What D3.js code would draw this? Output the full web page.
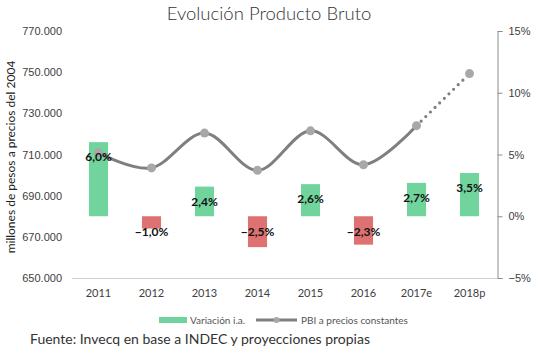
<!DOCTYPE html>
<html>
<head>
  <meta charset="utf-8">
  <script src="https://cdn.jsdelivr.net/npm/d3@7"></script>
  <style>
    body { margin: 0; background: white; }
    svg { display: block; font-family: Lato, "Open Sans", sans-serif; }
  </style>
</head>
<body>
  <script>
    // data
    const years = ['2011', '2012', '2013', '2014', '2015', '2016', '2017e', '2018p']
    const variacion = [0.060, -0.010, 0.024, -0.025, 0.026, -0.023, 0.027, 0.035]
    const pbi = [710800, 703500, 720400, 702300, 721500, 705000, 724000, 749300]
    const leftTicks = [650000, 670000, 690000, 710000, 730000, 750000, 770000]
    const rightTicks = [-0.05, 0, 0.05, 0.10, 0.15]

    const W = 538, H = 354
    const green = '#71d49d', red = '#de7171', lineGrey = '#7f7f7f', dotGrey = '#a8a8a8'

    const svg = d3.select('body').append('svg').attr('width', W).attr('height', H)

    const loc = d3.formatLocale({ decimal: ',', thousands: '.', grouping: [3], currency: ['$', ''] })
    const fmtThousands = loc.format(',')
    const fmtPct = loc.format('.1%')
    const fmtPct0 = loc.format('.0%')

    const x = d3.scaleBand().domain(years).range([72, 496]).paddingInner(0.64).paddingOuter(0.32)
    const yL = d3.scaleLinear().domain([650000, 770000]).range([278, 31])
    const yR = d3.scaleLinear().domain([-0.05, 0.15]).range([278, 31])
    const cx = d => x(d) + x.bandwidth() / 2

    // title
    svg.append('text').attr('x', 269).attr('y', 20).attr('text-anchor', 'middle')
      .attr('font-size', 18.5).attr('font-weight', 300).attr('fill', '#333').text('Evolución Producto Bruto')

    // bottom axis line
    svg.append('line').attr('x1', 72).attr('x2', 497).attr('y1', 278.5).attr('y2', 278.5)
      .attr('stroke', '#d0d0d0')

    // left axis (labels only)
    const gl = svg.append('g').attr('transform', 'translate(62,0)')
      .call(d3.axisLeft(yL).tickValues(leftTicks).tickFormat(fmtThousands).tickSize(0).tickPadding(0))
    gl.select('.domain').remove()
    gl.selectAll('text').attr('font-size', 11).attr('fill', '#404040')

    svg.append('text').attr('transform', 'translate(15,157) rotate(-90)').attr('text-anchor', 'middle')
      .attr('font-size', 12).attr('fill', '#222').text('millones de pesos a precios del 2004')

    // right axis
    const gr = svg.append('g').attr('transform', 'translate(497.5,0)')
      .call(d3.axisRight(yR).tickValues(rightTicks).tickFormat(fmtPct0).tickSize(5).tickPadding(6))
    gr.select('.domain').attr('stroke', '#8c8c8c')
    gr.selectAll('.tick line').attr('stroke', '#8c8c8c')
    gr.selectAll('text').attr('font-size', 11).attr('fill', '#404040')

    // x labels
    svg.append('g').selectAll('text').data(years).join('text')
      .attr('x', d => cx(d)).attr('y', 297).attr('text-anchor', 'middle')
      .attr('font-size', 11).attr('fill', '#404040').text(d => d)

    // bars
    svg.append('g').selectAll('rect').data(years).join('rect')
      .attr('x', d => x(d)).attr('width', x.bandwidth())
      .attr('y', (d, i) => yR(Math.max(0, variacion[i])))
      .attr('height', (d, i) => Math.abs(yR(variacion[i]) - yR(0)))
      .attr('fill', (d, i) => variacion[i] >= 0 ? green : red)

    // line
    const pts = years.map((d, i) => [cx(d), yL(pbi[i])])
    const smooth = d3.line().curve(d3.curveCatmullRom.alpha(0))
    svg.append('path').attr('d', smooth(pts.slice(0, 7))).attr('fill', 'none')
      .attr('stroke', lineGrey).attr('stroke-width', 3).attr('stroke-linecap', 'round')
    svg.append('path').attr('d', d3.line()(pts.slice(6))).attr('fill', 'none')
      .attr('stroke', lineGrey).attr('stroke-width', 3.2).attr('stroke-linecap', 'round')
      .attr('stroke-dasharray', '0 6.5')
    svg.append('g').selectAll('circle').data(pts).join('circle')
      .attr('cx', d => d[0]).attr('cy', d => d[1]).attr('r', 4.5).attr('fill', dotGrey)

    // bar labels
    svg.append('g').selectAll('text').data(years).join('text')
      .attr('x', d => cx(d)).attr('text-anchor', 'middle')
      .attr('y', (d, i) => variacion[i] >= 0 ? yR(variacion[i]) + 19 : yR(0) + 20)
      .attr('font-size', 12).attr('font-weight', 'bold').attr('fill', '#111')
      .text((d, i) => fmtPct(variacion[i]))

    // legend
    svg.append('rect').attr('x', 159).attr('y', 317).attr('width', 28).attr('height', 6).attr('fill', green)
    svg.append('text').attr('x', 190).attr('y', 323.5).attr('font-size', 10).attr('fill', '#555').text('Variación i.a.')
    svg.append('line').attr('x1', 256).attr('x2', 297).attr('y1', 320).attr('y2', 320)
      .attr('stroke', lineGrey).attr('stroke-width', 3)
    svg.append('circle').attr('cx', 276.5).attr('cy', 320).attr('r', 3).attr('fill', dotGrey)
    svg.append('text').attr('x', 301).attr('y', 323.5).attr('font-size', 10).attr('fill', '#555').text('PBI a precios constantes')

    // source
    svg.append('text').attr('x', 30).attr('y', 344).attr('font-size', 14).attr('fill', '#333')
      .text('Fuente: Invecq en base a INDEC y proyecciones propias')
  </script>
</body>
</html>
